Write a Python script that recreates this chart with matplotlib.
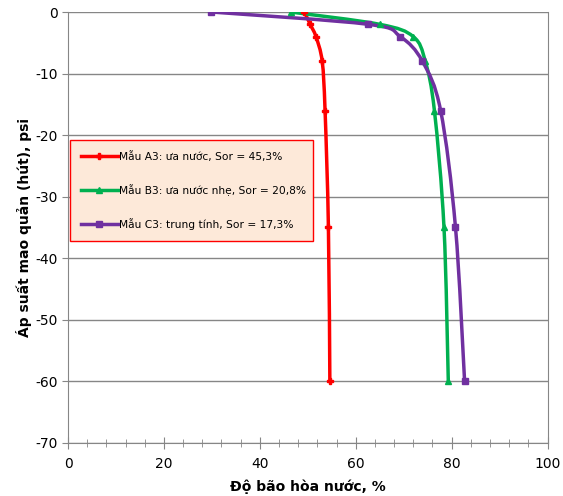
import numpy as np
import matplotlib.pyplot as plt
from matplotlib.ticker import MultipleLocator
from matplotlib.path import Path
from matplotlib.patches import PathPatch
from matplotlib.lines import Line2D
from matplotlib.transforms import IdentityTransform

plt.rcParams['font.family'] = ['DejaVu Sans']
plt.rcParams['axes.unicode_minus'] = False

# Mẫu A3
a3_x = [49.3, 50.5, 51.7, 53.0, 53.6, 54.3, 54.6]
a3_y = [0, -2, -4, -8, -16, -35, -60]
# Mẫu B3
b3_x = [46.4, 65.0, 72.0, 74.5, 76.4, 78.4, 79.3]
b3_y = [0, -2, -4, -8, -16, -35, -60]
# Mẫu C3
c3_x = [29.9, 62.6, 69.3, 73.9, 77.7, 80.8, 82.7]
c3_y = [0, -2, -4, -8, -16, -35, -60]

labels = ['Mẫu A3: ưa nước, Sor = 45,3%',
          'Mẫu B3: ưa nước nhẹ, Sor = 20,8%',
          'Mẫu C3: trung tính, Sor = 17,3%']
colors = ['#FF0000', '#00B050', '#7030A0']
markers = ['P', '^', 's']
msizes = [4, 5, 5]

fig = plt.figure(figsize=[5.63, 4.96], dpi=100)
ax = fig.add_axes([0.1208, 0.1069, 0.8518, 0.8689])
ax.set_xlim(0, 100)
ax.set_ylim(-70, 0)


def smooth_line(xs, ys, color):
    # excel-style smoothed line: bezier through the points, in pixel space
    p = ax.transData.transform(np.column_stack([xs, ys]))
    n = len(p)
    verts = [p[0]]
    codes = [Path.MOVETO]
    for i in range(n - 1):
        p0 = p[i - 1] if i > 0 else p[i]
        p3 = p[i + 2] if i + 2 < n else p[i + 1]
        c1 = p[i] + (p[i + 1] - p0) / 6
        c2 = p[i + 1] - (p3 - p[i]) / 6
        verts += [c1, c2, p[i + 1]]
        codes += [Path.CURVE4] * 3
    ax.add_patch(PathPatch(Path(verts, codes), fill=False, edgecolor=color, lw=2.5,
                           transform=IdentityTransform(), zorder=2))


handles = []
for xs, ys, c, m, s, lab in zip([a3_x, b3_x, c3_x], [a3_y, b3_y, c3_y],
                                colors, markers, msizes, labels):
    smooth_line(xs, ys, c)
    ax.plot(xs, ys, ls='none', marker=m, ms=s, color=c, zorder=3)
    handles.append(Line2D([], [], color=c, lw=2.5, marker=m, ms=s, label=lab))

ax.xaxis.set_major_locator(MultipleLocator(20))
ax.xaxis.set_minor_locator(MultipleLocator(4))
ax.yaxis.set_major_locator(MultipleLocator(10))
ax.grid(axis='y', color='#868686', lw=1)
ax.set_axisbelow(True)

for s in ['left', 'bottom', 'right']:
    ax.spines[s].set_color('#868686')
ax.spines['top'].set_visible(False)
ax.tick_params(axis='x', which='major', direction='inout', length=8, color='#868686',
               labelsize=10, pad=6)
ax.tick_params(axis='x', which='minor', direction='inout', length=6, color='#868686')
ax.tick_params(axis='y', direction='out', length=4, color='#868686', labelsize=10)

ax.set_xlabel('Độ bão hòa nước, %', fontsize=10, fontweight='bold', labelpad=6)
ax.set_ylabel('Áp suất mao quản (hút), psi', fontsize=10, fontweight='bold', labelpad=2)

leg = ax.legend(handles=handles, loc='upper left', bbox_to_anchor=(0.004, 0.478, 0.506, 0.225),
                mode='expand', fontsize=7.7, fancybox=False, framealpha=1, borderaxespad=0,
                handlelength=3.5, handletextpad=0.1, labelspacing=2.1, borderpad=1.0)
leg.get_frame().set_facecolor('#FDE9D9')
leg.get_frame().set_edgecolor('#FF0000')

plt.savefig('out.png', dpi=100)
